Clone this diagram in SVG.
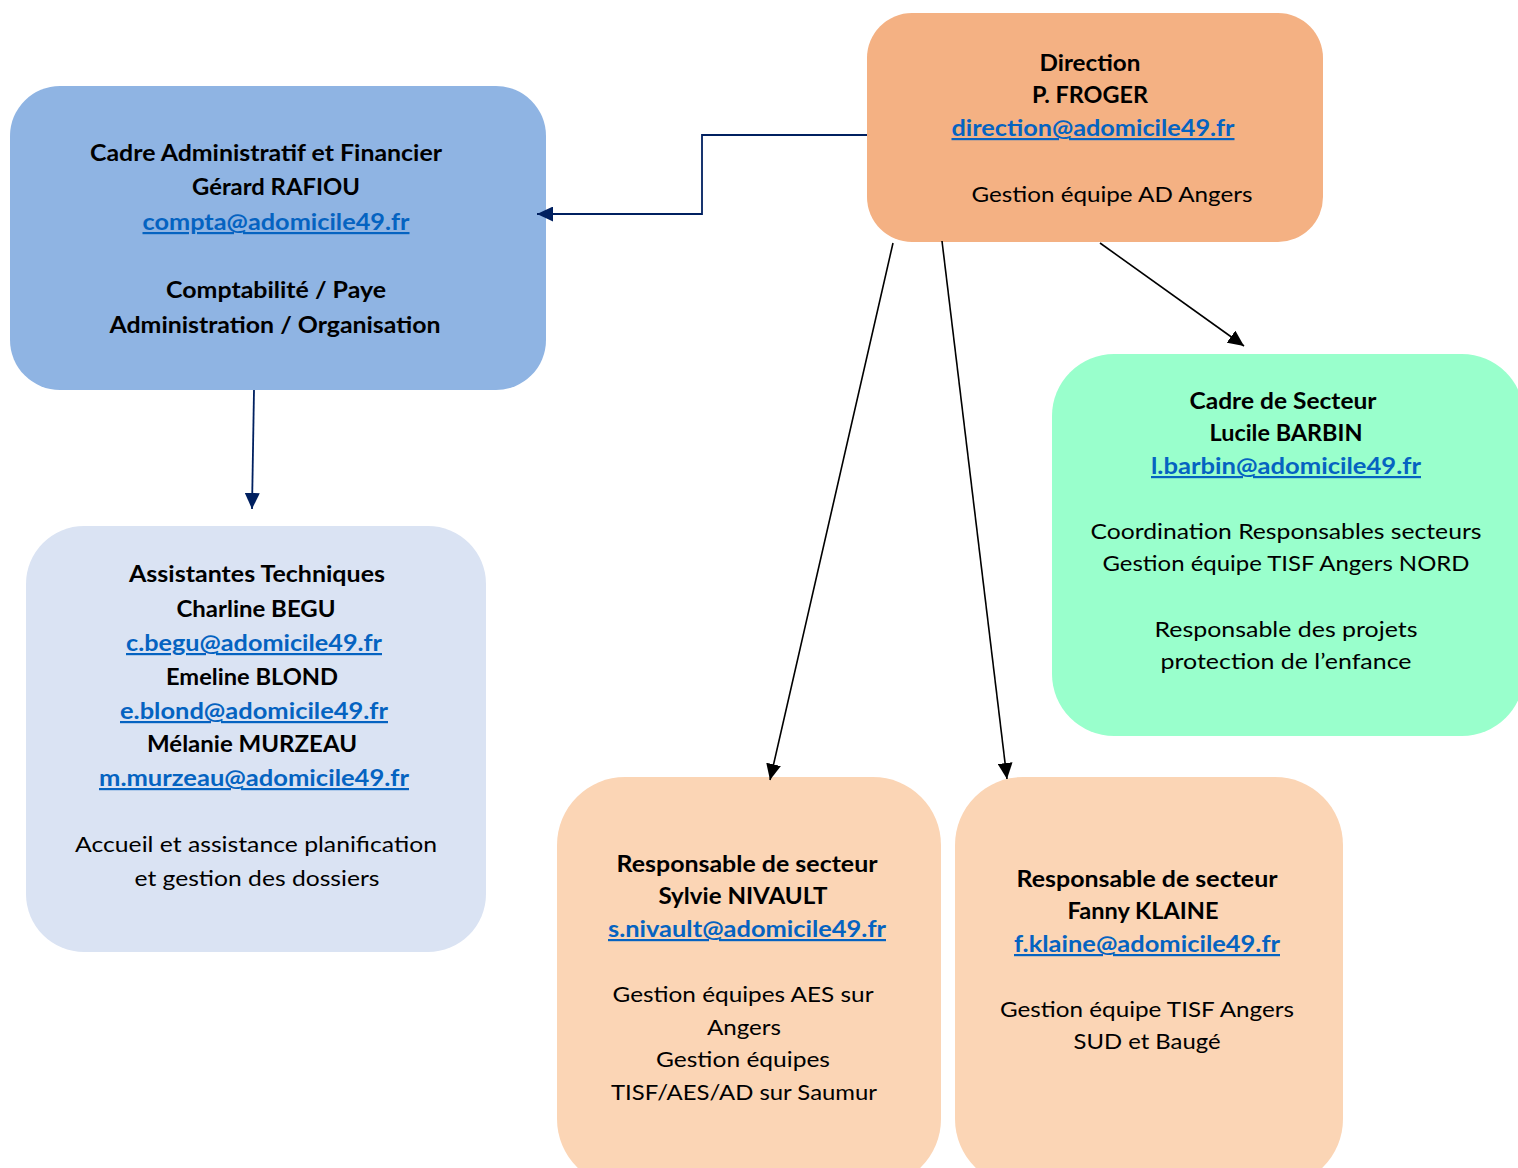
<svg xmlns="http://www.w3.org/2000/svg" width="1518" height="1168" viewBox="0 0 1518 1168">
<style>
text{font-family:Lato,"Open Sans","Liberation Sans",sans-serif;font-size:22px;fill:#000;text-anchor:middle}
.b{font-weight:bold}
.l{font-weight:bold;fill:#0563C1;text-decoration:underline}
.k{stroke:#000;stroke-width:1.6;fill:none}
.n{stroke:#002060;stroke-width:1.8;fill:none}
</style>
<defs>
<marker id="ak" markerUnits="userSpaceOnUse" markerWidth="17" markerHeight="15" refX="16" refY="7.5" orient="auto" viewBox="0 0 17 15"><path d="M0,0 L16,7.5 L0,15 z" fill="#000"/></marker>
<marker id="an" markerUnits="userSpaceOnUse" markerWidth="17" markerHeight="15" refX="16" refY="7.5" orient="auto" viewBox="0 0 17 15"><path d="M0,0 L16,7.5 L0,15 z" fill="#002060"/></marker>
</defs>
<rect width="1518" height="1168" fill="#fff"/>
<g id="direction">
<rect x="867" y="13" width="456" height="229" rx="45" fill="#F4B183"/>
<text class="b" x="1090" y="71" textLength="101" lengthAdjust="spacingAndGlyphs">Direction</text>
<text class="b" x="1090" y="103" textLength="116" lengthAdjust="spacingAndGlyphs">P. FROGER</text>
<text class="l" x="1093" y="136" textLength="283" lengthAdjust="spacingAndGlyphs">direction@adomicile49.fr</text>
<text x="1112" y="202" textLength="281" lengthAdjust="spacingAndGlyphs">Gestion équipe AD Angers</text>
</g>
<g id="cadre-admin">
<rect x="10" y="86" width="536" height="304" rx="50" fill="#8FB4E3"/>
<text class="b" x="266" y="161" textLength="352" lengthAdjust="spacingAndGlyphs">Cadre Administratif et Financier</text>
<text class="b" x="276" y="195" textLength="168" lengthAdjust="spacingAndGlyphs">Gérard RAFIOU</text>
<text class="l" x="276" y="230" textLength="267" lengthAdjust="spacingAndGlyphs">compta@adomicile49.fr</text>
<text class="b" x="276" y="298" textLength="220" lengthAdjust="spacingAndGlyphs">Comptabilité / Paye</text>
<text class="b" x="275" y="333" textLength="331" lengthAdjust="spacingAndGlyphs">Administration / Organisation</text>
</g>
<g id="assistantes">
<rect x="26" y="526" width="460" height="426" rx="58" fill="#DAE3F3"/>
<text class="b" x="257" y="582" textLength="256" lengthAdjust="spacingAndGlyphs">Assistantes Techniques</text>
<text class="b" x="256" y="617" textLength="159" lengthAdjust="spacingAndGlyphs">Charline BEGU</text>
<text class="l" x="254" y="651" textLength="256" lengthAdjust="spacingAndGlyphs">c.begu@adomicile49.fr</text>
<text class="b" x="252" y="685" textLength="172" lengthAdjust="spacingAndGlyphs">Emeline BLOND</text>
<text class="l" x="254" y="719" textLength="268" lengthAdjust="spacingAndGlyphs">e.blond@adomicile49.fr</text>
<text class="b" x="252" y="752" textLength="210" lengthAdjust="spacingAndGlyphs">Mélanie MURZEAU</text>
<text class="l" x="254" y="786" textLength="310" lengthAdjust="spacingAndGlyphs">m.murzeau@adomicile49.fr</text>
<text x="256" y="852" textLength="362" lengthAdjust="spacingAndGlyphs">Accueil et assistance planification</text>
<text x="257" y="886" textLength="245" lengthAdjust="spacingAndGlyphs">et gestion des dossiers</text>
</g>
<g id="cadre-secteur">
<rect x="1052" y="354" width="472" height="382" rx="62" fill="#99FFCC"/>
<text class="b" x="1283" y="409" textLength="187" lengthAdjust="spacingAndGlyphs">Cadre de Secteur</text>
<text class="b" x="1286" y="441" textLength="153" lengthAdjust="spacingAndGlyphs">Lucile BARBIN</text>
<text class="l" x="1286" y="474" textLength="270" lengthAdjust="spacingAndGlyphs">l.barbin@adomicile49.fr</text>
<text x="1286" y="539" textLength="391" lengthAdjust="spacingAndGlyphs">Coordination Responsables secteurs</text>
<text x="1286" y="571" textLength="367" lengthAdjust="spacingAndGlyphs">Gestion équipe TISF Angers NORD</text>
<text x="1286" y="637" textLength="263" lengthAdjust="spacingAndGlyphs">Responsable des projets</text>
<text x="1286" y="669" textLength="251" lengthAdjust="spacingAndGlyphs">protection de l’enfance</text>
</g>
<g id="sylvie">
<rect x="557" y="777" width="384" height="410" rx="68" fill="#FBD5B5"/>
<text class="b" x="747" y="872" textLength="261" lengthAdjust="spacingAndGlyphs">Responsable de secteur</text>
<text class="b" x="743" y="904" textLength="169" lengthAdjust="spacingAndGlyphs">Sylvie NIVAULT</text>
<text class="l" x="747" y="937" textLength="278" lengthAdjust="spacingAndGlyphs">s.nivault@adomicile49.fr</text>
<text x="743" y="1002" textLength="261" lengthAdjust="spacingAndGlyphs">Gestion équipes AES sur</text>
<text x="744" y="1035" textLength="74" lengthAdjust="spacingAndGlyphs">Angers</text>
<text x="743" y="1067" textLength="174" lengthAdjust="spacingAndGlyphs">Gestion équipes</text>
<text x="744" y="1100" textLength="266" lengthAdjust="spacingAndGlyphs">TISF/AES/AD sur Saumur</text>
</g>
<g id="fanny">
<rect x="955" y="777" width="388" height="410" rx="68" fill="#FBD5B5"/>
<text class="b" x="1147" y="887" textLength="261" lengthAdjust="spacingAndGlyphs">Responsable de secteur</text>
<text class="b" x="1143" y="919" textLength="151" lengthAdjust="spacingAndGlyphs">Fanny KLAINE</text>
<text class="l" x="1147" y="952" textLength="266" lengthAdjust="spacingAndGlyphs">f.klaine@adomicile49.fr</text>
<text x="1147" y="1017" textLength="294" lengthAdjust="spacingAndGlyphs">Gestion équipe TISF Angers</text>
<text x="1147" y="1049" textLength="147" lengthAdjust="spacingAndGlyphs">SUD et Baugé</text>
</g>
<g id="connectors">
<polyline class="n" points="867,135 702,135 702,214 537,214" marker-end="url(#an)"/>
<line class="n" x1="254" y1="390" x2="252" y2="509" marker-end="url(#an)"/>
<line class="k" x1="893" y1="243" x2="770" y2="780" marker-end="url(#ak)"/>
<line class="k" x1="942" y1="241" x2="1007" y2="779" marker-end="url(#ak)"/>
<line class="k" x1="1100" y1="243" x2="1244" y2="346" marker-end="url(#ak)"/>
</g>
</svg>
